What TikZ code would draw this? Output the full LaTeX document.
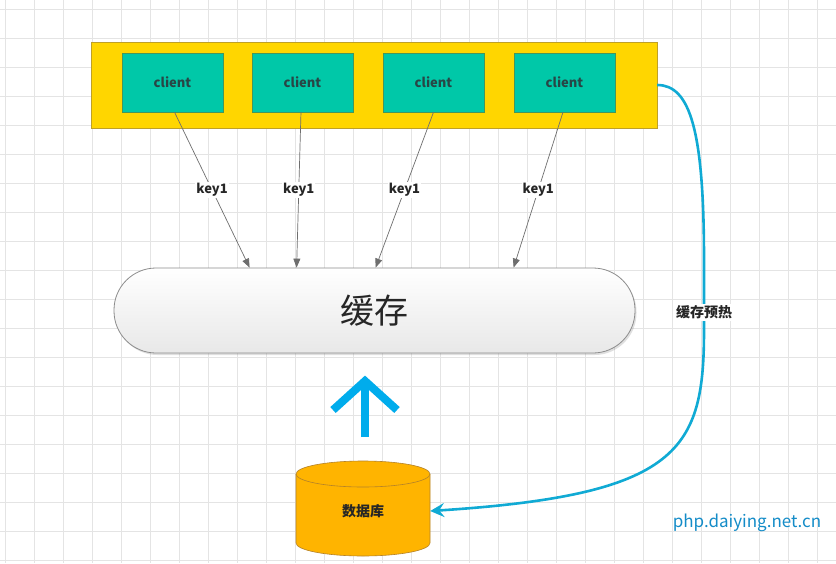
\documentclass[tikz,border=0pt]{standalone}
\usepackage{fontspec}
\setmainfont{Noto Sans CJK SC}
\usetikzlibrary{arrows.meta,calc,shadows}
\definecolor{gridc}{RGB}{228,228,228}
\definecolor{yel}{RGB}{255,214,0}
\definecolor{yelb}{RGB}{190,160,40}
\definecolor{teal}{RGB}{0,200,168}
\definecolor{tealb}{RGB}{70,150,90}
\definecolor{tealt}{RGB}{40,70,70}
\definecolor{arrg}{RGB}{110,110,110}
\definecolor{blu}{RGB}{0,172,236}
\definecolor{blu2}{RGB}{16,170,212}
\definecolor{orng}{RGB}{255,180,0}
\definecolor{orngb}{RGB}{180,130,40}
\definecolor{wm}{RGB}{20,140,200}
\begin{document}
\begin{tikzpicture}[x=1pt,y=-1pt,
  clientbox/.style={draw=tealb,fill=teal,minimum width=101pt,minimum height=59pt,inner sep=0pt,font=\fontsize{13}{13}\selectfont\bfseries,text=tealt},
  keyarrow/.style={draw=arrg,line width=0.7pt,-{Triangle[length=9pt,width=7pt]}},
  keylabel/.style={fill=white,inner sep=1pt,font=\fontsize{13}{13}\selectfont\bfseries,text=black!85},
]
\useasboundingbox (0,0) rectangle (836,563);
\fill[white] (0,0) rectangle (836,563);
% grid
\foreach \x in {5,34,...,836} \draw[gridc,line width=0.8pt] (\x,0) -- (\x,563);
\foreach \y in {9,38,...,563} \draw[gridc,line width=0.8pt] (0,\y) -- (836,\y);

% yellow container
\node[draw=yelb,fill=yel,minimum width=566pt,minimum height=86pt,inner sep=0pt] (group) at (374,85) {};
% clients
\node[clientbox] (c1) at (172.5,82.5) {client};
\node[clientbox] (c2) at (302.5,82.5) {client};
\node[clientbox] (c3) at (433.5,82.5) {client};
\node[clientbox] (c4) at (564.5,82.5) {client};

% cache
\node[draw=black!45,line width=0.8pt,rounded corners=42pt,top color=white,bottom color=black!9,
      minimum width=521pt,minimum height=85pt,inner sep=0pt,
      drop shadow={shadow xshift=1.5pt,shadow yshift=-2pt,opacity=0.25},
      font=\fontsize{34}{34}\selectfont,text=black!85] (cache) at (374.5,310.5) {缓存};

% key arrows
\coordinate (e1) at ($(cache.north west)+(136,0)$);
\coordinate (e2) at ($(cache.north west)+(183,0)$);
\coordinate (e3) at ($(cache.north west)+(262,0)$);
\coordinate (e4) at ($(cache.north west)+(400,0)$);
\draw[keyarrow] ($(c1.south west)!0.52!(c1.south east)$) -- node[keylabel]{key1} (e1);
\draw[keyarrow] ($(c2.south west)!0.485!(c2.south east)$) -- node[keylabel]{key1} (e2);
\draw[keyarrow] ($(c3.south west)!0.5!(c3.south east)$) -- node[keylabel]{key1} (e3);
\draw[keyarrow] ($(c4.south west)!0.485!(c4.south east)$) -- node[keylabel]{key1} (e4);

% database cylinder
\fill[orng,draw=orngb,line width=0.6pt] (296,474) -- (296,543) arc[start angle=180,end angle=0,x radius=67,y radius=13] -- (430,474) arc[start angle=0,end angle=-180,x radius=67,y radius=13] -- cycle;
\draw[orngb,line width=0.6pt] (296,474) arc[start angle=180,end angle=0,x radius=67,y radius=13];
\node[minimum width=134pt,minimum height=60pt,inner sep=0pt,font=\fontsize{14}{14}\selectfont\bfseries,text=black!85] (db) at (363,511) {数据库};

% big blue up arrow
\coordinate (ab) at (365,437);
\coordinate (at) at (365,383);
\draw[blu,line width=8pt] (ab) -- (at);
\draw[blu,line width=8pt,miter limit=10] (333,410) -- (365,381) -- (397,410);

% warm-up curve
\draw[blu2,line width=2.6pt,-{Stealth[length=14pt,width=14pt,inset=5pt]}]
  (group.east) .. controls (690,85) and (704,130) .. (704,260)
  -- node[pos=0.75,fill=white,inner sep=1.5pt,font=\fontsize{14}{14}\selectfont\bfseries,text=black!85]{缓存预热} (704,330)
  .. controls (704,450) and (680,495) .. (db.east);

% watermark
\node[font=\fontsize{17}{17}\selectfont,text=wm,inner sep=0pt] (wmark) at (747,523) {php.daiying.net.cn};
\end{tikzpicture}
\end{document}
